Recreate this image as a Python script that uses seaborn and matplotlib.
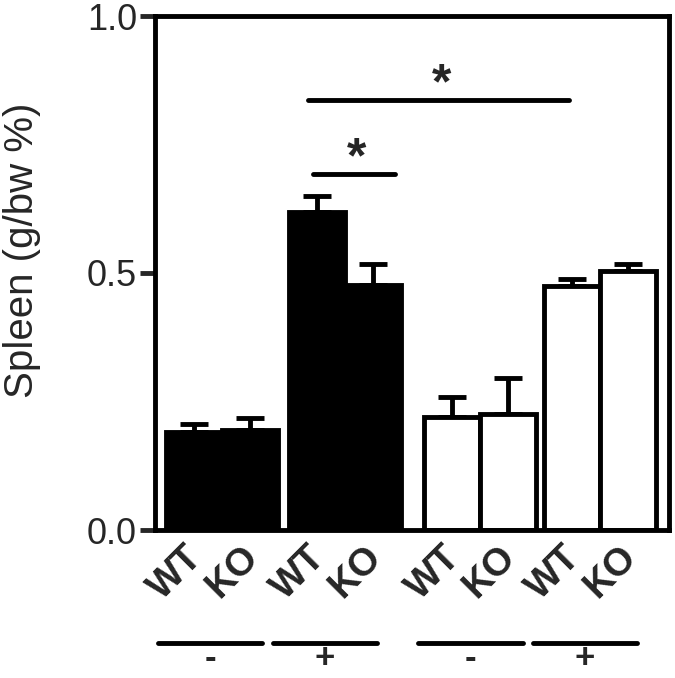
import numpy as np
import matplotlib
matplotlib.use("Agg")
import matplotlib.pyplot as plt
import matplotlib.transforms as mtransforms
import seaborn as sns

# bar data (spleen weight, % of body weight)
positions = [-0.5, 0.5, 1.7, 2.7, 4.1, 5.1, 6.25, 7.25]
genotypes = ["WT", "KO", "WT", "KO", "WT", "KO", "WT", "KO"]
means = [0.191, 0.195, 0.618, 0.476, 0.220, 0.226, 0.474, 0.503]
sems = [0.016, 0.023, 0.031, 0.041, 0.039, 0.070, 0.015, 0.014]
fills = ["black", "black", "black", "black", "white", "white", "white", "white"]

# treatment groups under the axis
group_signs = ["-", "+", "-", "+"]
group_spans = [(-1.14, 0.71), (0.91, 2.77), (3.5, 5.375), (5.55, 7.41)]

# significance brackets: (x start, x end, y)
sig_lines = [(1.63, 3.09, 0.692), (1.54, 6.2, 0.836)]

sns.set_style("ticks")
plt.rcParams["font.family"] = ["Liberation Sans", "DejaVu Sans"]

fig = plt.figure(figsize=(6.75, 6.78), dpi=100)
ax = fig.add_axes([155 / 675, 1 - 530 / 678, (669 - 155) / 675, (530 - 16) / 678])

sns.barplot(x=positions, y=means, hue=fills, palette={"black": "black", "white": "white"},
            native_scale=True, width=1.0, dodge=False, legend=False,
            edgecolor="black", linewidth=3.5, ax=ax, zorder=2)

ax.errorbar(positions, means, yerr=[np.zeros(len(sems)), sems], fmt="none",
            ecolor="black", elinewidth=3.5, capsize=10, capthick=3.5, zorder=1)

ax.set_xlim(-1.196, 7.98)
ax.set_ylim(0, 1.0)
ax.set_yticks([0, 0.5, 1.0])
ax.set_yticklabels(["0.0", "0.5", "1.0"], fontsize=26)
ax.set_ylabel("Spleen (g/bw %)", fontsize=29)
ax.yaxis.set_label_coords(-0.222, 0.545)

ax.set_xticks(positions)
ax.set_xticklabels(genotypes, rotation=45, ha="right", va="top",
                   rotation_mode="anchor", fontsize=27.5, fontweight="bold")
ax.tick_params(axis="x", length=0, pad=6.5)
ax.tick_params(axis="y", length=11, width=3.5, direction="out", pad=2)
shift = mtransforms.ScaledTranslation(-10 / 100, 0, fig.dpi_scale_trans)
for lab in ax.get_xticklabels():
    lab.set_transform(lab.get_transform() + shift)

for side in ["left", "right", "top", "bottom"]:
    ax.spines[side].set_linewidth(3.5)
    ax.spines[side].set_color("black")
    ax.spines[side].set_visible(True)

# significance lines and stars
for x0, x1, y in sig_lines:
    ax.plot([x0, x1], [y, y], color="black", lw=3.5, solid_capstyle="round", clip_on=False)
    ax.text((x0 + x1) / 2 + 0.05, y - 0.016, "*", ha="center", va="bottom",
            fontsize=36, fontweight="bold")

# treatment lines and signs
for (x0, x1), sign in zip(group_spans, group_signs):
    ax.plot([x0, x1], [-0.22, -0.22], color="black", lw=3.5, solid_capstyle="round", clip_on=False)
    ax.text((x0 + x1) / 2, -0.25, sign, ha="center", va="center",
            fontsize=25, fontweight="bold")

fig.savefig("out.png", dpi=100)
